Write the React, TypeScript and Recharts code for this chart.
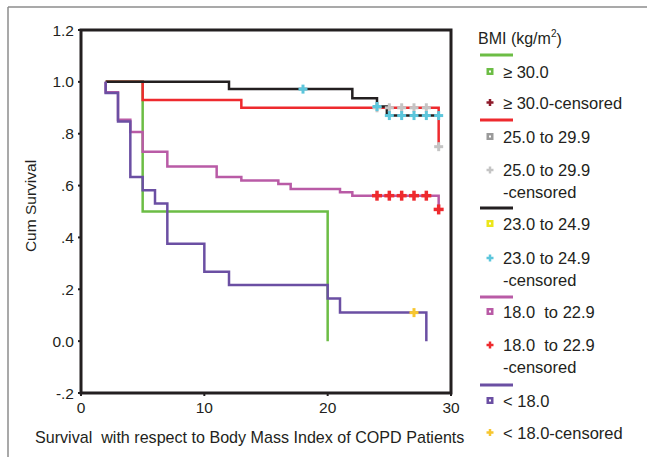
import React from "react";
import { ComposedChart, Line, Scatter, XAxis, YAxis, ReferenceArea } from "recharts";

// ---- data ----
const xTicks = [0, 10, 20, 30];
const yTicks = [-0.2, 0, 0.2, 0.4, 0.6, 0.8, 1.0, 1.2];
const yTickLabels = ["-.2", "0.0", ".2", ".4", ".6", ".8", "1.0", "1.2"];

// step curves: (time of drop, survival after drop)
const bmi30 = [
  { t: 2, s: 1.0 },
  { t: 5, s: 0.5 },
  { t: 20, s: 0.0 },
];
const bmi25 = [
  { t: 2, s: 1.0 },
  { t: 5, s: 0.93 },
  { t: 13, s: 0.9 },
  { t: 29, s: 0.75 },
];
const bmi23 = [
  { t: 2, s: 1.0 },
  { t: 12, s: 0.972 },
  { t: 22, s: 0.937 },
  { t: 24, s: 0.905 },
  { t: 24.8, s: 0.87 },
  { t: 29, s: 0.87 },
];
const bmi18 = [
  { t: 2, s: 1.0 },
  { t: 2, s: 0.96 },
  { t: 3, s: 0.854 },
  { t: 4, s: 0.807 },
  { t: 5, s: 0.73 },
  { t: 7, s: 0.674 },
  { t: 11, s: 0.633 },
  { t: 13, s: 0.62 },
  { t: 16, s: 0.606 },
  { t: 17, s: 0.587 },
  { t: 21, s: 0.574 },
  { t: 22, s: 0.561 },
  { t: 29, s: 0.508 },
];
const bmiLow = [
  { t: 2, s: 1.0 },
  { t: 2, s: 0.957 },
  { t: 3, s: 0.847 },
  { t: 4, s: 0.633 },
  { t: 5, s: 0.582 },
  { t: 6, s: 0.531 },
  { t: 7, s: 0.376 },
  { t: 10, s: 0.268 },
  { t: 12, s: 0.217 },
  { t: 20, s: 0.164 },
  { t: 21, s: 0.11 },
  { t: 28, s: 0.0 },
];

// censored marks
const cens25 = [
  { t: 24, s: 0.9 },
  { t: 25, s: 0.9 },
  { t: 26, s: 0.9 },
  { t: 27, s: 0.9 },
  { t: 28, s: 0.9 },
  { t: 29, s: 0.75 },
];
const cens23 = [
  { t: 18, s: 0.972 },
  { t: 24, s: 0.905 },
  { t: 25, s: 0.87 },
  { t: 26, s: 0.87 },
  { t: 27, s: 0.87 },
  { t: 28, s: 0.87 },
  { t: 29, s: 0.87 },
];
const cens18 = [
  { t: 24, s: 0.561 },
  { t: 25, s: 0.561 },
  { t: 26, s: 0.561 },
  { t: 27, s: 0.561 },
  { t: 28, s: 0.561 },
  { t: 29, s: 0.508 },
];
const censLow = [{ t: 27, s: 0.11 }];

// colours
const C = {
  green: "#6cbd45",
  red: "#ee2a2e",
  black: "#231f20",
  magenta: "#b95ba6",
  purple: "#6b4fa3",
  cyan: "#5cc6dc",
  gray: "#c4c4c4",
  grayBox: "#9a9a9a",
  yellow: "#f7c62f",
  yellowBox: "#ece61a",
  darkRed: "#8e1b2b",
};

const FONT = "'Liberation Sans', Arial, Helvetica, sans-serif";
const TEXT = "#231f20";

const plus = (color: string, size: number, w: number) => (props: any) => {
  const { cx, cy } = props;
  if (cx == null || cy == null) return <g />;
  const h = size / 2;
  return (
    <g>
      <line x1={cx - h} y1={cy} x2={cx + h} y2={cy} stroke={color} strokeWidth={w} />
      <line x1={cx} y1={cy - h} x2={cx} y2={cy + h} stroke={color} strokeWidth={w} />
    </g>
  );
};

type LegendRow =
  | { kind: "line"; color: string; y: number }
  | { kind: "box"; color: string; y: number; text: string[] }
  | { kind: "plus"; color: string; y: number; text: string[] };

const legendRows: LegendRow[] = [
  { kind: "line", color: C.green, y: 55 },
  { kind: "box", color: C.green, y: 71.5, text: ["\u2265 30.0"] },
  { kind: "plus", color: C.darkRed, y: 102.5, text: ["\u2265 30.0-censored"] },
  { kind: "line", color: C.red, y: 120 },
  { kind: "box", color: C.grayBox, y: 136.5, text: ["25.0 to 29.9"] },
  { kind: "plus", color: C.gray, y: 170, text: ["25.0 to 29.9", "-censored"] },
  { kind: "line", color: C.black, y: 208 },
  { kind: "box", color: C.yellowBox, y: 223.5, text: ["23.0 to 24.9"] },
  { kind: "plus", color: C.cyan, y: 258, text: ["23.0 to 24.9", "-censored"] },
  { kind: "line", color: C.magenta, y: 297 },
  { kind: "box", color: C.magenta, y: 311.5, text: ["18.0  to 22.9"] },
  { kind: "plus", color: C.red, y: 345, text: ["18.0  to 22.9", "-censored"] },
  { kind: "line", color: C.purple, y: 385 },
  { kind: "box", color: C.purple, y: 400.5, text: ["< 18.0"] },
  { kind: "plus", color: C.yellow, y: 432.5, text: ["< 18.0-censored"] },
];

function Overlay() {
  return (
    <svg
      width={647}
      height={457}
      style={{ position: "absolute", left: 0, top: 0, pointerEvents: "none" }}
      fontFamily={FONT}
    >
      {/* outer frame (top & left visible) */}
      <line x1={8} y1={7} x2={647} y2={7} stroke="#8c8c8c" strokeWidth={1.5} />
      <line x1={8} y1={7} x2={8} y2={457} stroke="#8c8c8c" strokeWidth={1.5} />
      {/* axis titles */}
      <text
        x={30}
        y={206}
        transform="rotate(-90 30 206)"
        textAnchor="middle"
        dominantBaseline="central"
        fontSize={15.5}
        fill={TEXT}
      >
        Cum Survival
      </text>
      <text x={35} y={437} dominantBaseline="central" fontSize={16.1} fill={TEXT} style={{ whiteSpace: "pre" }}>
        {"Survival  with respect to Body Mass Index of COPD Patients"}
      </text>
      {/* legend */}
      <text x={478} y={38.5} dominantBaseline="central" fontSize={16} fill={TEXT}>
        BMI (kg/m
        <tspan fontSize={10} dy={-6}>2</tspan>
        <tspan dy={6}>)</tspan>
      </text>
      {legendRows.map((r, i) => {
        if (r.kind === "line") {
          return <line key={i} x1={480} x2={513} y1={r.y} y2={r.y} stroke={r.color} strokeWidth={3} />;
        }
        const texts = r.text.map((tx, j) => (
          <text
            key={j}
            x={503}
            y={r.y + j * 22}
            dominantBaseline="central"
            fontSize={16.5}
            fill={TEXT}
            style={{ whiteSpace: "pre" }}
          >
            {tx}
          </text>
        ));
        const mark =
          r.kind === "box" ? (
            <g>
              <rect x={486.5} y={r.y - 3.5} width={7} height={7} fill={r.color} />
              <rect x={489} y={r.y - 1} width={2} height={2} fill="#fff" />
            </g>
          ) : (
            <g>
              <line x1={486.5} x2={493.5} y1={r.y} y2={r.y} stroke={r.color} strokeWidth={2.5} />
              <line x1={490} x2={490} y1={r.y - 3.5} y2={r.y + 3.5} stroke={r.color} strokeWidth={2.5} />
            </g>
          );
        return (
          <g key={i}>
            {mark}
            {texts}
          </g>
        );
      })}
    </svg>
  );
}

export default function App() {
  const tickStyle = { fontSize: 15.5, fill: TEXT, fontFamily: FONT };
  return (
    <div style={{ position: "absolute", left: 0, top: 0, width: 647, height: 457, background: "#fff", overflow: "hidden" }}>
      <ComposedChart width={647} height={457} margin={{ top: 30, right: 196, bottom: 34, left: 0 }}>
        <XAxis
          dataKey="t"
          type="number"
          domain={[0, 30]}
          ticks={xTicks}
          allowDataOverflow
          axisLine={false}
          tickSize={3}
          tickMargin={6}
          tickLine={{ stroke: TEXT, strokeWidth: 2 }}
          tick={tickStyle}
          height={30}
        />
        <YAxis
          dataKey="s"
          type="number"
          domain={[-0.2, 1.2]}
          ticks={yTicks}
          allowDataOverflow
          axisLine={false}
          tickSize={3}
          tickMargin={4}
          tickLine={{ stroke: TEXT, strokeWidth: 2 }}
          tick={tickStyle}
          width={81}
          tickFormatter={(v: number) => {
            const idx = yTicks.findIndex((y) => Math.abs(y - v) < 1e-6);
            return idx >= 0 ? yTickLabels[idx] : String(v);
          }}
        />
        <ReferenceArea x1={0} x2={30} y1={-0.2} y2={1.2} fill="none" fillOpacity={0} stroke={C.black} strokeWidth={3} />
        <Line data={bmi30} dataKey="s" type="stepAfter" stroke={C.green} strokeWidth={2.5} dot={false} activeDot={false} isAnimationActive={false} />
        <Line data={bmi25} dataKey="s" type="stepAfter" stroke={C.red} strokeWidth={2.5} dot={false} activeDot={false} isAnimationActive={false} />
        <Line data={bmi23} dataKey="s" type="stepAfter" stroke={C.black} strokeWidth={2.5} dot={false} activeDot={false} isAnimationActive={false} />
        <Line data={bmi18} dataKey="s" type="stepAfter" stroke={C.magenta} strokeWidth={2.5} dot={false} activeDot={false} isAnimationActive={false} />
        <Line data={bmiLow} dataKey="s" type="stepAfter" stroke={C.purple} strokeWidth={2.5} dot={false} activeDot={false} isAnimationActive={false} />
        <Scatter data={cens25} dataKey="s" shape={plus(C.gray, 9, 3)} isAnimationActive={false} />
        <Scatter data={cens23} dataKey="s" shape={plus(C.cyan, 9, 3)} isAnimationActive={false} />
        <Scatter data={cens18} dataKey="s" shape={plus(C.red, 10, 3.5)} isAnimationActive={false} />
        <Scatter data={censLow} dataKey="s" shape={plus(C.yellow, 9, 3)} isAnimationActive={false} />
      </ComposedChart>
      <Overlay />
    </div>
  );
}
